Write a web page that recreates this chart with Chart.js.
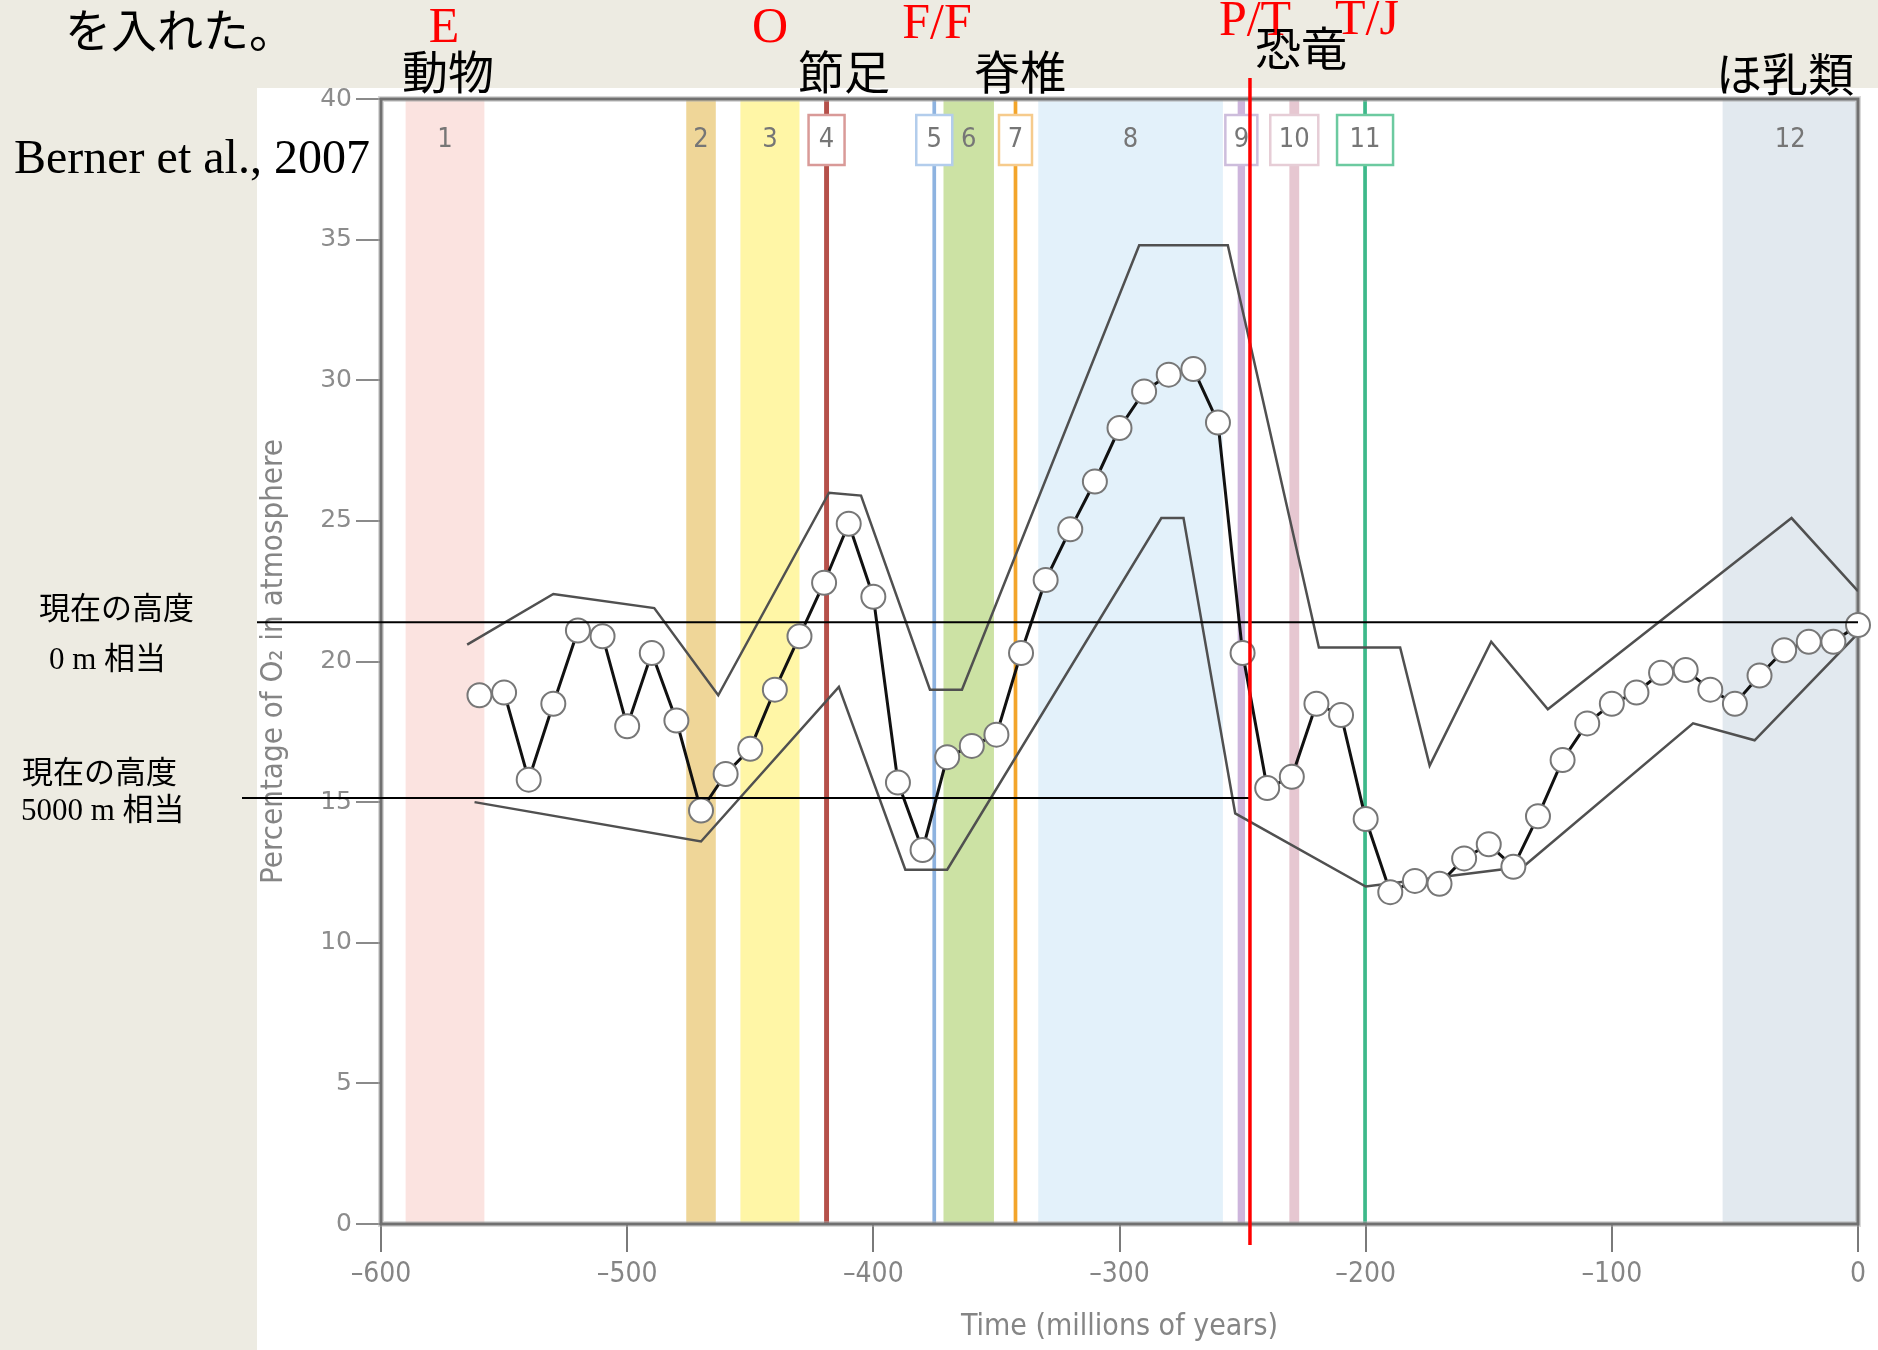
<!DOCTYPE html>
<html><head><meta charset="utf-8">
<script src="https://cdn.jsdelivr.net/npm/chart.js@4"></script>
<style>html,body{margin:0;padding:0;background:#EDEBE2;overflow:hidden}canvas{display:block}</style>
</head><body>
<canvas id="c" width="1878" height="1350"></canvas>
<script>
// ---- data ----
const years = [-560,-550,-540,-530,-520,-510,-500,-490,-480,-470,-460,-450,-440,-430,-420,-410,-400,-390,-380,-370,-360,-350,-340,-330,-320,-310,-300,-290,-280,-270,-260,-250,-240,-230,-220,-210,-200,-190,-180,-170,-160,-150,-140,-130,-120,-110,-100,-90,-80,-70,-60,-50,-40,-30,-20,-10,0];
const o2 = [18.8,18.9,15.8,18.5,21.1,20.9,17.7,20.3,17.9,14.7,16.0,16.9,19.0,20.9,22.8,24.9,22.3,15.7,13.3,16.6,17.0,17.4,20.3,22.9,24.7,26.4,28.3,29.6,30.2,30.4,28.5,20.3,15.5,15.9,18.5,18.1,14.4,11.8,12.2,12.1,13.0,13.5,12.7,14.5,16.5,17.8,18.5,18.9,19.6,19.7,19.0,18.5,19.5,20.4,20.7,20.7,21.3];
const upperYears = [-565,-530,-489,-463,-418,-405,-377,-364,-292,-256,-219,-186,-174,-149,-126,-27,0];
const upperO2 = [20.6,22.4,21.9,18.8,26.0,25.9,19.0,19.0,34.8,34.8,20.5,20.5,16.3,20.7,18.3,25.1,22.5];
const lowerYears = [-562,-470,-414,-387,-370,-283,-274,-253,-200,-136,-67,-42,0];
const lowerO2 = [15.0,13.6,19.1,12.6,12.6,25.1,25.1,14.6,12.0,12.7,17.8,17.2,21.0];
const bandStart = [-590,-476,-454,-420,-376,-371.5,-343,-333,-252,-231,-201,-55];
const bandEnd   = [-558,-464,-430,-418,-374.5,-351,-341.5,-258,-249,-227,-199.5,0];
const bandColor = ['#FBE3E0','#EFD698','#FFF6A6','#B5504A','#8EB3E0','#CCE2A4','#F3A52A','#E3F1FA','#CDB5DC','#E6C7D1','#3DB98A','#E2E9EF'];
const bandLabel = ['1','2','3','4','5','6','7','8','9','10','11','12'];
const bandBoxColor = [null,null,null,'#D99A98','#B3CDEC',null,'#F6CB8C',null,'#CDBDDC','#E6CDD6','#6CCAA0',null];
const boxWidth = [0,0,0,36,36,0,33,0,32,48,56,0];
const refLevels = [21.4, 15.15];
const boundaryYear = -247;
const xTickValues = [-600,-500,-400,-300,-200,-100,0];
const yTickValues = [0,5,10,15,20,25,30,35,40];

const deco = {
  id: 'deco',
  beforeDraw(chart) {
    const ctx = chart.ctx, xs = chart.scales.x, a = chart.chartArea;
    ctx.save();
    ctx.fillStyle = '#EDEBE2'; ctx.fillRect(0, 0, chart.width, chart.height);
    ctx.fillStyle = '#FFFFFF'; ctx.fillRect(257, 88, chart.width - 257, chart.height - 88);
    for (let i = 0; i < bandStart.length; i++) {
      const x0 = xs.getPixelForValue(bandStart[i]), x1 = xs.getPixelForValue(bandEnd[i]);
      ctx.fillStyle = bandColor[i];
      ctx.fillRect(x0, a.top, x1 - x0, a.bottom - a.top);
    }
    for (let i = 0; i < bandStart.length; i++) {
      const cx = (xs.getPixelForValue(bandStart[i]) + xs.getPixelForValue(bandEnd[i])) / 2;
      const cy = a.top + 41;
      if (bandBoxColor[i]) {
        const w = boxWidth[i];
        ctx.fillStyle = '#FFFFFF';
        ctx.fillRect(cx - w / 2, cy - 25, w, 50);
        ctx.strokeStyle = bandBoxColor[i]; ctx.lineWidth = 2.5;
        ctx.strokeRect(cx - w / 2, cy - 25, w, 50);
      }
      ctx.fillStyle = '#767676';
      ctx.font = '27px "DejaVu Sans Condensed", "DejaVu Sans", sans-serif';
      ctx.textAlign = 'center'; ctx.textBaseline = 'middle';
      ctx.fillText(bandLabel[i], cx, cy);
    }
    ctx.restore();
  },
  beforeDatasetsDraw(chart) {
    const ctx = chart.ctx, a = chart.chartArea;
    ctx.save();
    ctx.strokeStyle = 'rgba(170,170,170,0.45)'; ctx.lineWidth = 6;
    ctx.strokeRect(a.left, a.top, a.right - a.left, a.bottom - a.top);
    ctx.strokeStyle = '#707070'; ctx.lineWidth = 3;
    ctx.strokeRect(a.left, a.top, a.right - a.left, a.bottom - a.top);
    ctx.restore();
  },
  afterDatasetsDraw(chart) {
    const ctx = chart.ctx, xs = chart.scales.x, ys = chart.scales.y, a = chart.chartArea;
    ctx.save();
    const bx = xs.getPixelForValue(boundaryYear);
    ctx.strokeStyle = '#000'; ctx.lineWidth = 2;
    let y1 = ys.getPixelForValue(refLevels[0]);
    ctx.beginPath(); ctx.moveTo(257, y1); ctx.lineTo(a.right, y1); ctx.stroke();
    let y2 = ys.getPixelForValue(refLevels[1]);
    ctx.beginPath(); ctx.moveTo(242, y2); ctx.lineTo(bx, y2); ctx.stroke();
    ctx.strokeStyle = '#FF0000'; ctx.lineWidth = 3.5;
    ctx.beginPath(); ctx.moveTo(bx, 78); ctx.lineTo(bx, 1245); ctx.stroke();

    const T = (txt, x, y, font, color, align) => {
      ctx.font = font; ctx.fillStyle = color; ctx.textAlign = align || 'center'; ctx.textBaseline = 'middle';
      ctx.fillText(txt, x, y);
    };
    const jp = '46px "Noto Sans CJK JP", sans-serif';
    const red = '50px "Liberation Serif", "Times New Roman", serif';
    T('を入れた。', 180, 30, jp, '#000');
    T('E', 444, 29, red, '#FF0000');
    T('O', 770, 29, red, '#FF0000');
    T('F/F', 937, 25, red, '#FF0000');
    T('P/T', 1255, 22, red, '#FF0000');
    T('T/J', 1367, 21, red, '#FF0000');
    T('動物', 448, 72, jp, '#000');
    T('節足', 844, 72, jp, '#000');
    T('脊椎', 1020, 72, jp, '#000');
    T('恐竜', 1301, 48, jp, '#000');
    T('ほ乳類', 1785, 74, jp, '#000');
    T('Berner et al., 2007', 14, 160, '48px "Liberation Serif", "Times New Roman", serif', '#000', 'left');
    const side = '31px "Liberation Serif", "Noto Sans CJK JP", serif';
    T('現在の高度', 39, 611, side, '#000', 'left');
    T('0 m 相当', 49, 661, side, '#000', 'left');
    T('現在の高度', 22, 775, side, '#000', 'left');
    T('5000 m 相当', 21, 812, side, '#000', 'left');
    ctx.restore();
  }
};

const pts = (xa, ya) => xa.map((x, i) => ({x: x, y: ya[i]}));

new Chart(document.getElementById('c'), {
  type: 'line',
  data: {
    datasets: [
      {label: 'O2', data: pts(years, o2), borderColor: '#111111', borderWidth: 3, pointRadius: 12,
       pointBackgroundColor: '#FFFFFF', pointBorderColor: '#777777', pointBorderWidth: 2, tension: 0, clip: false},
      {label: 'upper', data: pts(upperYears, upperO2), borderColor: '#505050', borderWidth: 2.5, pointRadius: 0, tension: 0},
      {label: 'lower', data: pts(lowerYears, lowerO2), borderColor: '#505050', borderWidth: 2.5, pointRadius: 0, tension: 0}
    ]
  },
  options: {
    responsive: false, animation: false, devicePixelRatio: 1,
    layout: {padding: {left: 257, right: 20, top: 99, bottom: 0}},
    plugins: {legend: {display: false}, tooltip: {enabled: false}},
    scales: {
      x: {
        type: 'linear', min: -600, max: 0,
        afterFit(s) { s.height = 126; },
        afterBuildTicks(s) { s.ticks = xTickValues.map(v => ({value: v})); },
        ticks: {color: '#858585', padding: 6, font: {size: 28, family: '"Liberation Sans Narrow", "DejaVu Sans Condensed", sans-serif'},
                callback: v => v < 0 ? '\u2013' + Math.abs(v) : String(v), maxRotation: 0},
        grid: {drawOnChartArea: false, drawTicks: true, tickLength: 28, color: '#7a7a7a', lineWidth: 2},
        border: {display: false},
        title: {display: true, text: 'Time (millions of years)', color: '#858585', padding: {top: 0, bottom: 8},
                font: {size: 30, lineHeight: 1.0, family: '"Liberation Sans Narrow", "DejaVu Sans Condensed", sans-serif'}}
      },
      y: {
        type: 'linear', min: 0, max: 40,
        afterFit(s) { s.width = 124; },
        afterBuildTicks(s) { s.ticks = yTickValues.map(v => ({value: v})); },
        ticks: {color: '#8c8c8c', padding: 4, font: {size: 25, family: '"DejaVu Sans", sans-serif'}},
        grid: {drawOnChartArea: false, drawTicks: true, tickLength: 25, color: '#8a8a8a', lineWidth: 2},
        border: {display: false},
        title: {display: true, text: 'Percentage of O₂ in atmosphere', color: '#858585', padding: {top: 1, bottom: 0},
                font: {size: 31, lineHeight: 1.0, family: '"Liberation Sans Narrow", "DejaVu Sans Condensed", sans-serif'}}
      }
    }
  },
  plugins: [deco]
});
</script>
</body></html>
